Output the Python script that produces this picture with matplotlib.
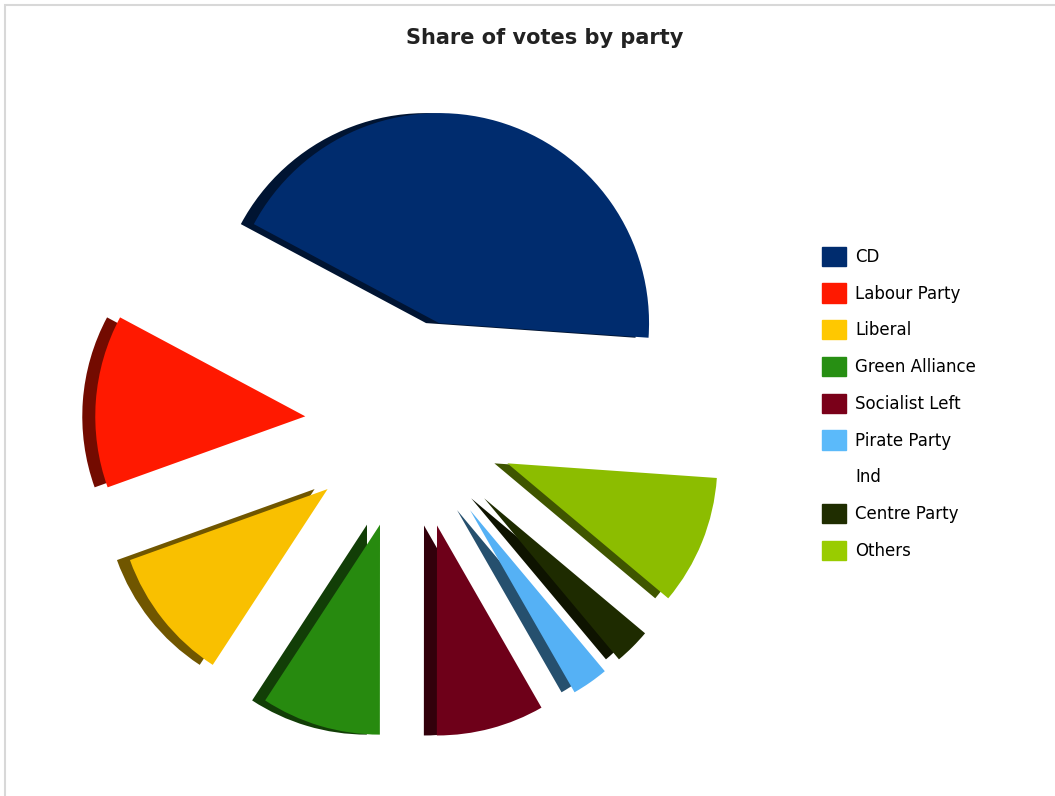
import matplotlib.pyplot as plt
import matplotlib.patches as mpatches
import numpy as np

# Vote shares per party (percent)
parties = ["CD", "Labour Party", "Liberal", "Green Alliance", "Socialist Left",
           "Pirate Party", "Ind", "Centre Party", "Others"]
shares = [43.3, 13.3, 10.3, 9.2, 8.3, 2.8, 0.0, 2.8, 10.0]
colors = ["#002C6E", "#FF1900", "#F9C000", "#278A0F", "#6E0019",
          "#55B1F5", "#FFFFFF", "#1E2B00", "#8CBD00"]
swatch_colors = ["#002C6E", "#FF1900", "#FFC800", "#278F13", "#7A0019",
                 "#5BBAFA", "#FFFFFF", "#1F2D00", "#99CC00"]

W, H = 1055, 796
fig = plt.figure(figsize=(W / 100, H / 100), dpi=100)
fig.patch.set_facecolor("white")

# axes spanning the whole figure, 1 data unit = pie radius in px
px = 210.0
cx, cy = 410, 424
ax = fig.add_axes([0, 0, 1, 1])

explode = [0.5] * len(shares)
dark = [tuple(np.array(plt.matplotlib.colors.to_rgb(c)) * 0.45) if c != "#FFFFFF" else (1, 1, 1)
        for c in colors]

# darker copy shifted left gives the extruded edge
ax.pie(shares, colors=dark, explode=explode, startangle=-4, counterclock=True,
       radius=1, center=(-13 / px, 0), wedgeprops=dict(linewidth=0), frame=True)
wedges, _ = ax.pie(shares, colors=colors, explode=explode, startangle=-4, counterclock=True,
                   radius=1, center=(0, 0), wedgeprops=dict(linewidth=0), frame=True)
ax.set_xlim(-cx / px, (W - cx) / px)
ax.set_ylim(-(H - cy) / px, cy / px)
ax.set_aspect("auto")
ax.axis("off")

handles = [mpatches.Patch(color=c) for c in swatch_colors]
fig.legend(handles, parties, loc="upper left", bbox_to_anchor=(815 / W, 1 - 240 / H),
           frameon=False, fontsize=12, handlelength=1.45, handleheight=1.4,
           labelspacing=1.05, handletextpad=0.55, borderaxespad=0)

fig.text(545 / W, 1 - 38 / H, "Share of votes by party", ha="center", va="center",
         fontsize=15, fontweight="bold", color="#222222")

# light grey frame
fig.add_artist(mpatches.Rectangle((5 / W, -0.1), 1.2, 1 - 5 / H + 0.1,
                                  transform=fig.transFigure, fill=False,
                                  edgecolor="#D8D8D8", linewidth=1.5))

fig.savefig("out.png", dpi=100, facecolor="white")
